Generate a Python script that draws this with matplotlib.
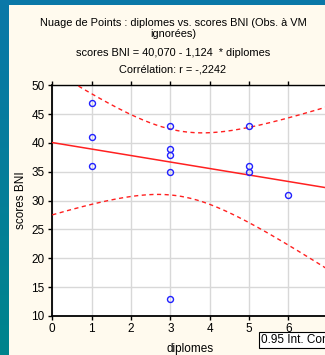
import numpy as np
import matplotlib
matplotlib.use("Agg")
import matplotlib.pyplot as plt
from matplotlib.patches import Rectangle
from matplotlib.colors import LinearSegmentedColormap

diplomes = [1, 1, 1, 3, 3, 3, 3, 3, 5, 5, 5, 6]
scores_bni = [47, 41, 36, 43, 39, 38, 35, 13, 43, 36, 35, 31]
xticks = [0, 1, 2, 3, 4, 5, 6, 7]
yticks = [10, 15, 20, 25, 30, 35, 40, 45, 50]

plt.rcParams['font.family'] = ['Liberation Sans', 'DejaVu Sans']

W, H = 325, 355
fig = plt.figure(figsize=(W / 100, H / 100), dpi=100)
fig.patch.set_facecolor('#FFFAEE')

# border strips
bax = fig.add_axes([0, 0, 9 / W, 1])
grad = np.linspace(0, 1, 256).reshape(-1, 1)
cmap = LinearSegmentedColormap.from_list('b', ['#0A78A8', '#00848C'])
bax.imshow(grad, aspect='auto', cmap=cmap, extent=[0, 1, 0, 1], origin='upper')
bax.set_axis_off()
fig.patches.append(Rectangle((0, 1 - 5 / H), 1, 5 / H, transform=fig.transFigure,
                             facecolor='#0A78A8', edgecolor='none', zorder=5))

left, right = 52.3 / W, 327.6 / W
top, bottom = 1 - 85.3 / H, 1 - 316 / H
ax = fig.add_axes([left, bottom, right - left, top - bottom])
ax.set_facecolor('white')

x = np.array(diplomes, float)
y = np.array(scores_bni, float)
n = len(x)
b, a = np.polyfit(x, y, 1)
xs = np.linspace(0, 7, 200)
yhat = a + b * xs
resid = y - (a + b * x)
s = np.sqrt(np.sum(resid ** 2) / (n - 2))
sxx = np.sum((x - x.mean()) ** 2)
t = 2.228
se = s * np.sqrt(1 / n + (xs - x.mean()) ** 2 / sxx)

ax.plot(xs, yhat, color='#FF2020', lw=1.1, zorder=3)
ax.plot(xs, yhat + t * se, color='#FF2020', lw=1.0, ls=(0, (3, 2.5)), zorder=3)
ax.plot(xs, yhat - t * se, color='#FF2020', lw=1.0, ls=(0, (3, 2.5)), zorder=3)
ax.plot(x, y, 'o', mfc='none', mec='#2020FF', ms=4.3, mew=1.0, zorder=4)

ax.set_xlim(0, 7)
ax.set_ylim(10, 50)
ax.set_xticks(xticks)
ax.set_yticks(yticks)
ax.grid(True, color='#D8D8D8', lw=1.0)
ax.set_axisbelow(True)
ax.tick_params(axis='both', labelsize=8.5, direction='out', length=3, width=1,
               colors='black', pad=2.5)
ax.tick_params(axis='x', top=True, pad=2)
for sp in ['left', 'bottom']:
    ax.spines[sp].set_linewidth(1.3)
ax.spines['top'].set_linewidth(1.0)
ax.spines['right'].set_visible(False)

ax.set_xlabel('diplomes', fontsize=8.5, labelpad=5.5)
ax.set_ylabel('scores BNI', fontsize=8.5, labelpad=3)

fs = 7.9
fig.text(173 / W, 1 - 22.7 / H, 'Nuage de Points : diplomes vs. scores BNI (Obs. à VM',
         ha='center', va='center', fontsize=fs)
fig.text(173 / W, 1 - 34 / H, 'ignorées)', ha='center', va='center', fontsize=fs)
fig.text(173 / W, 1 - 53 / H, 'scores BNI = 40,070 - 1,124  * diplomes',
         ha='center', va='center', fontsize=fs)
fig.text(173 / W, 1 - 70 / H, 'Corrélation: r = -,2242', ha='center', va='center', fontsize=fs)

fig.text(261 / W, 1 - 340 / H, '0.95 Int. Conf.', ha='left', va='center', fontsize=8.5,
         bbox=dict(boxstyle='square,pad=0.2', facecolor='white', edgecolor='black', lw=0.8))

fig.savefig('out.png', dpi=100, facecolor=fig.get_facecolor())
